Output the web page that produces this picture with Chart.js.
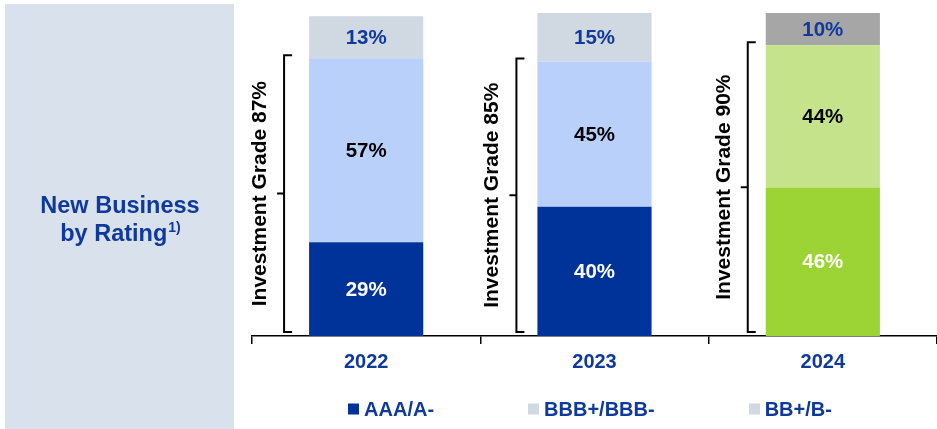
<!DOCTYPE html>
<html>
<head>
<meta charset="utf-8">
<script src="https://cdn.jsdelivr.net/npm/chart.js@4/dist/chart.umd.min.js"></script>
<style>
  html, body { margin: 0; padding: 0; background: #ffffff; }
  #wrap { width: 937px; height: 429px; position: relative; }
</style>
</head>
<body>
<div id="wrap"><canvas id="c" width="937" height="429"></canvas></div>
<script>
// ---- data ----
const years = ['2022', '2023', '2024'];
const seriesNames = ['AAA/A-', 'BBB+/BBB-', 'BB+/B-'];
const aaaShare = [29, 40, 46];
const bbbShare = [57, 45, 44];
const bbShare = [13, 15, 10];
const investmentGrade = [87, 85, 90];

// ---- styling ----
const FONT = '"Liberation Sans", Arial, Helvetica, sans-serif';
const BLUE_TEXT = '#0F3A9C';
const barColors = [
  ['#00339A', '#00339A', '#9BD434'],
  ['#B9D0FB', '#B9D0FB', '#C4E38B'],
  ['#D0D8E2', '#D0D8E2', '#A6A6A6']
];
const valueColors = [
  ['#FFFFFF', '#FFFFFF', '#FFFFFF'],
  ['#000000', '#000000', '#000000'],
  [BLUE_TEXT, BLUE_TEXT, BLUE_TEXT]
];
const legendSwatch = ['#00339A', '#D0D8E2', '#D0D8E2'];
const bracketGap = [25, 21, 18];

// Left side panel with the section heading
const sidePanel = {
  id: 'sidePanel',
  beforeDraw(chart) {
    const ctx = chart.ctx;
    ctx.save();
    ctx.fillStyle = '#D9E1EC';
    ctx.fillRect(5, 4, 229, 425);
    ctx.fillStyle = BLUE_TEXT;
    ctx.textBaseline = 'alphabetic';
    ctx.font = 'bold 23.5px ' + FONT;
    ctx.textAlign = 'center';
    ctx.fillText('New Business', 120, 213);
    const main = 'by Rating';
    const sup = '1)';
    const wMain = ctx.measureText(main).width;
    ctx.font = 'bold 14px ' + FONT;
    const wSup = ctx.measureText(sup).width;
    const x0 = 120 - (wMain + wSup) / 2;
    ctx.textAlign = 'left';
    ctx.font = 'bold 23.5px ' + FONT;
    ctx.fillText(main, x0, 241);
    ctx.font = 'bold 14px ' + FONT;
    ctx.fillText(sup, x0 + wMain + 1, 232);
    ctx.restore();
  }
};

// Percent labels inside each bar segment
const segmentLabels = {
  id: 'segmentLabels',
  afterDatasetsDraw(chart) {
    const ctx = chart.ctx;
    ctx.save();
    ctx.font = 'bold 20.5px ' + FONT;
    ctx.textAlign = 'center';
    ctx.textBaseline = 'middle';
    chart.data.datasets.forEach((ds, i) => {
      const meta = chart.getDatasetMeta(i);
      meta.data.forEach((el, j) => {
        const v = ds.data[j];
        ctx.fillStyle = valueColors[i][j];
        ctx.fillText(v + '%', el.x, (el.y + el.base) / 2 + 1);
      });
    });
    ctx.restore();
  }
};

// Investment-grade brackets beside each bar
const gradeBrackets = {
  id: 'gradeBrackets',
  afterDatasetsDraw(chart) {
    const ctx = chart.ctx;
    const y = chart.scales.y;
    const metaA = chart.getDatasetMeta(0);
    ctx.save();
    ctx.strokeStyle = '#000000';
    ctx.lineWidth = 2;
    metaA.data.forEach((el, j) => {
      const left = el.x - el.width / 2;
      const bx = left - bracketGap[j];
      const top = y.getPixelForValue(aaaShare[j] + bbbShare[j]) - 3;
      const bottom = y.getPixelForValue(0) - 4;
      const mid = (top + bottom) / 2;
      ctx.beginPath();
      ctx.moveTo(bx + 8, top);
      ctx.lineTo(bx, top);
      ctx.lineTo(bx, bottom);
      ctx.lineTo(bx + 8, bottom);
      ctx.moveTo(bx, mid);
      ctx.lineTo(bx - 7, mid);
      ctx.stroke();

      ctx.save();
      ctx.translate(bx - 25, mid);
      ctx.rotate(-Math.PI / 2);
      ctx.fillStyle = '#000000';
      ctx.font = 'bold 21px ' + FONT;
      ctx.textAlign = 'center';
      ctx.textBaseline = 'middle';
      ctx.fillText('Investment Grade ' + investmentGrade[j] + '%', 0, 1);
      ctx.restore();
    });
    ctx.restore();
  }
};

// Legend row under the axis
const bottomLegend = {
  id: 'bottomLegend',
  afterDraw(chart) {
    const ctx = chart.ctx;
    ctx.save();
    ctx.font = 'bold 20px ' + FONT;
    const box = 11, textOff = 16, gap = 94, cy = 409;
    const widths = seriesNames.map(n => textOff + ctx.measureText(n).width);
    const total = widths.reduce((a, b) => a + b, 0) + gap * (widths.length - 1);
    let x = 590 - total / 2;
    ctx.textBaseline = 'middle';
    ctx.textAlign = 'left';
    seriesNames.forEach((n, i) => {
      ctx.fillStyle = legendSwatch[i];
      ctx.fillRect(Math.round(x), cy - 5.5, box, box);
      ctx.fillStyle = BLUE_TEXT;
      ctx.fillText(n, x + textOff, cy + 1);
      x += widths[i] + gap;
    });
    ctx.restore();
  }
};

const datasets = [aaaShare, bbbShare, bbShare].map((vals, i) => ({
  label: seriesNames[i],
  data: vals,
  backgroundColor: barColors[i],
  borderWidth: 0,
  barPercentage: 0.5,
  categoryPercentage: 1.0
}));

new Chart(document.getElementById('c'), {
  type: 'bar',
  data: { labels: years, datasets },
  plugins: [sidePanel, segmentLabels, gradeBrackets, bottomLegend],
  options: {
    responsive: false,
    devicePixelRatio: 1,
    animation: false,
    layout: { padding: { left: 252, top: 13, right: 0, bottom: 0 } },
    plugins: {
      legend: { display: false },
      tooltip: { enabled: false },
      title: { display: false }
    },
    scales: {
      x: {
        stacked: true,
        afterFit(scale) { scale.height = 93; },
        grid: {
          drawOnChartArea: false,
          drawTicks: true,
          tickLength: 8,
          lineWidth: 1.5,
          color: (c) => (c.index === years.length ? 'rgba(0,0,0,0)' : '#000000')
        },
        border: { display: true, color: '#000000', width: 1.5 },
        ticks: {
          color: BLUE_TEXT,
          font: { family: FONT, size: 20, weight: 'bold' },
          padding: 6
        }
      },
      y: {
        stacked: true,
        display: false,
        min: 0,
        max: 100
      }
    }
  }
});
</script>
</body>
</html>
